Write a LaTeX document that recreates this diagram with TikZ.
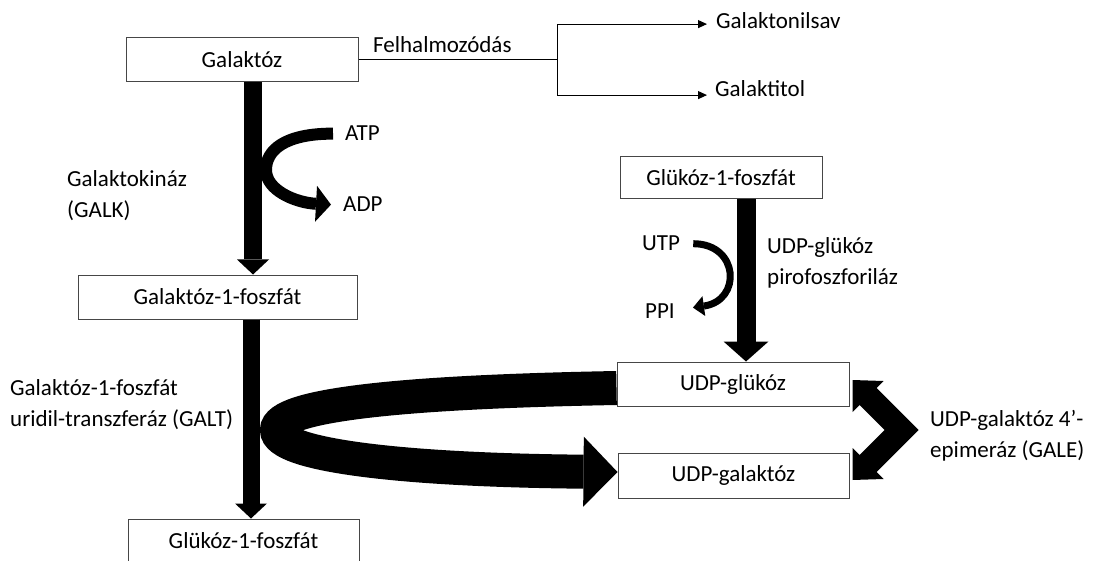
\documentclass[tikz,border=0pt]{standalone}
\usepackage{fontspec}
\setmainfont{Carlito}
\usetikzlibrary{arrows.meta,calc}
\definecolor{boxline}{RGB}{70,70,70}

\begin{document}
\begin{tikzpicture}[x=1pt, y=-1pt,
        every node/.style={font=\fontsize{23}{31}\selectfont},
        substrate/.style={draw=boxline, line width=1pt, inner sep=0pt, minimum height=44pt},
        txt/.style={inner sep=0pt, align=left},
        thinarr/.style={line width=1pt, -{Triangle[length=9pt, width=8pt]}},
        bigarr/.style={line width=18pt, -{Triangle[length=15pt, width=32pt, line width=0pt]}}]
    \useasboundingbox (0,0) rectangle (1094,561);

    % substances
    \node[substrate, minimum width=232pt] (galaktoz) at (242,60) {Galaktóz};
    \node[substrate, minimum width=279pt] (gal1p) at (217.5,297) {Galaktóz-1-foszfát};
    \node[substrate, minimum width=231pt] (glc1p) at (243.5,541) {Glükóz-1-foszfát};
    \node[substrate, minimum width=202pt, minimum height=42pt] (glc1pr) at (721,178) {Glükóz-1-foszfát};
    \node[substrate, minimum width=232pt] (udpglc) at (733,384) {UDP-glükóz};
    \node[substrate, minimum width=231pt, minimum height=45pt] (udpgal) at (733.5,475.5) {UDP-galaktóz};

    % labels
    \node[txt, anchor=base west] (felh) at (373,53) {Felhalmozódás};
    \node[txt, anchor=base west] (gsav) at (716,29) {Galaktonilsav};
    \node[txt, anchor=base west] (gtol) at (715,97) {Galaktitol};
    \node[txt, anchor=base west] (atp) at (345,141) {ATP};
    \node[txt, anchor=base west] (adp) at (343,212) {ADP};
    \node[txt, anchor=west] (galk) at (67,196) {Galaktokináz\\(GALK)};
    \node[txt, anchor=west] (galt) at (10,405) {Galaktóz-1-foszfát\\uridil-transzferáz (GALT)};
    \node[txt, anchor=base west] (utp) at (642,251) {UTP};
    \node[txt, anchor=base west] (ppi) at (645,318) {PPI};
    \node[txt, anchor=west] (ugpp) at (767,263) {UDP-glükóz\\pirofoszforiláz};
    \node[txt, anchor=west] (gale) at (930,436) {UDP-galaktóz 4’-\\epimeráz (GALE)};

    % side products
    \draw[line width=1pt] (galaktoz.east) -- ++(199,0) coordinate (split);
    \draw[thinarr] (split) |- ([xshift=-9pt, yshift=-3pt]gsav.west);
    \draw[thinarr] (split) |- ([xshift=-8pt, yshift=-6pt]gtol.west);

    % main steps
    \draw[bigarr] ([xshift=11pt]galaktoz.south) -- ([xshift=11pt]galaktoz.south |- gal1p.north);
    \draw[bigarr, line width=17pt] ([xshift=33.5pt]gal1p.south) -- ([xshift=33.5pt]gal1p.south |- glc1p.north);
    \draw[bigarr, line width=19pt, -{Triangle[length=20pt, width=45pt, line width=0pt]}]
        ([xshift=25pt]glc1pr.south) -- ([xshift=25pt]glc1pr.south |- udpglc.north);

    % cofactors
    \coordinate (atpbend) at (266,170);
    \draw[line width=12pt, -{Triangle[length=15pt, width=36pt, line width=0pt]}]
        ([xshift=-12pt]atp.west) .. controls +(-48,0) and +(0,-20) .. (atpbend)
        .. controls +(0,20) and +(-36,-2) .. ([xshift=-12pt]adp.west);
    \draw[line width=7pt, -{Triangle[length=11pt, width=20pt, line width=0pt]}]
        ([xshift=13pt]utp.east) .. controls +(46,0) and +(49,-7) .. ([xshift=18pt, yshift=3pt]ppi.east);

    % GALT
    \coordinate (galtbend) at (277,430);
    \draw[line width=34pt, -{Triangle[length=34pt, width=70pt, line width=0pt]}]
        ([yshift=-4pt]udpglc.west) .. controls +(-217,4) and +(0,-25) .. (galtbend)
        .. controls +(0,25) and +(-218,-2) .. ([yshift=3.5pt]udpgal.west);

    % GALE
    \fill (udpglc.east) ++(3,-4) -- ++(31,1) -- ++(-7,7) -- ++(42,42) -- ++(-42,42) -- ++(7,7)
        -- ++(-31,1) -- ++(0,-32) -- ++(7,7) -- ++(25,-25) -- ++(-25,-25) -- ++(-7,7) -- cycle;
\end{tikzpicture}
\end{document}
